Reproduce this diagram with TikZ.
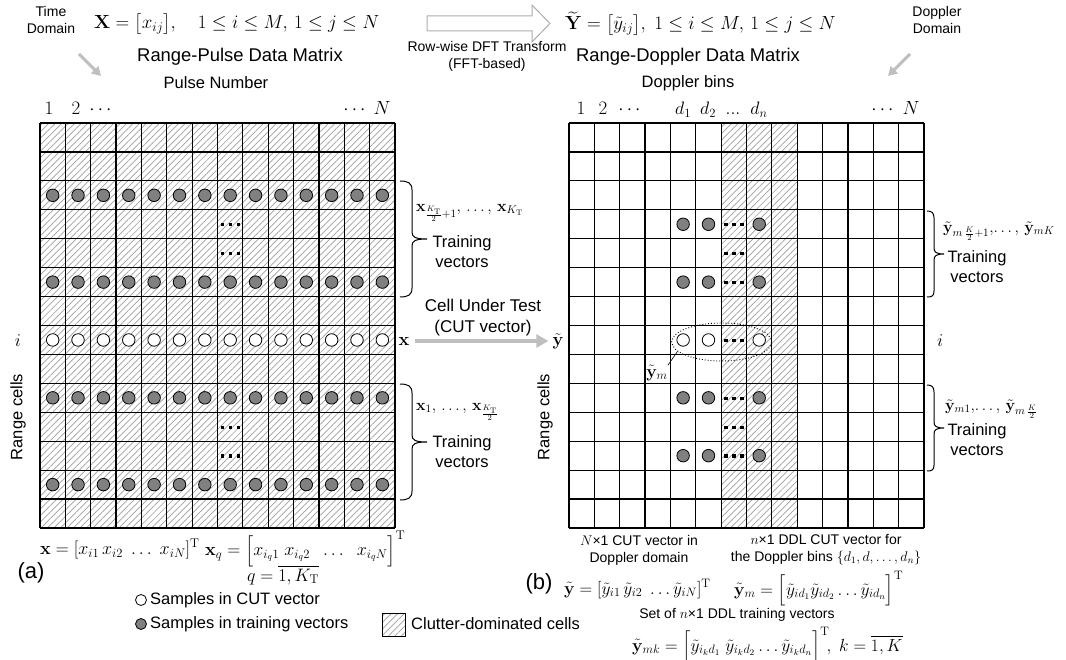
\RequirePackage{fix-cm}
\documentclass[tikz,border=0pt]{standalone}
\usepackage[no-math]{fontspec}
\setmainfont{Liberation Sans}
\usepackage{amsmath}
\usetikzlibrary{patterns.meta,arrows.meta,shapes.geometric}
\newcommand\dotsat[2]{\foreach \dx in {-8,0,8} {\fill[black] ({#1+\dx-1.7},{#2-1.2}) rectangle ++(3.4,3.4);}}
\begin{document}
\begin{tikzpicture}[x=1pt,y=-1pt,
  hatchp/.style={pattern={Lines[angle=45,distance=4.6pt,line width=0.7pt]}, pattern color=gray!75},
  gridl/.style={line width=1.2pt, black},
  tc/.style={circle, draw=black, line width=0.8pt, fill=gray, minimum size=12.5pt, inner sep=0pt},
  cc/.style={circle, draw=black, line width=0.8pt, fill=white, minimum size=12.5pt, inner sep=0pt},
  t18/.style={font=\fontsize{18.4}{21}\selectfont, inner sep=0pt},
  t17/.style={font=\fontsize{17}{21}\selectfont, inner sep=0pt, align=center},
  t16/.style={font=\fontsize{16.5}{20}\selectfont, inner sep=0pt, align=center},
  t14/.style={font=\fontsize{14}{17}\selectfont, inner sep=0pt, align=center},
  m19/.style={font=\fontsize{19}{22}\selectfont, inner sep=0pt},
  m18/.style={font=\fontsize{18}{21}\selectfont, inner sep=0pt},
  m17/.style={font=\fontsize{17.5}{20}\selectfont, inner sep=0pt},
  m16/.style={font=\fontsize{16}{19}\selectfont, inner sep=0pt},
  garrow/.style={gray!50, line width=3pt, -{Triangle[length=9pt,width=10pt]}},
  cutarrow/.style={gray!50, line width=4pt, -{Triangle[length=12pt,width=13pt]}},
  bracel/.style={line width=1pt, black}
]
\useasboundingbox (0,0) rectangle (1066,660);
\def\CW{25.36}
\def\RH{28.93}
% ---------------- left grid ----------------
\fill[white] (40,123) rectangle (395.04,528.02);
\fill[hatchp] (40,123) rectangle (395.04,528.02);
\foreach \i in {0,...,14} {
  \draw[gridl] ({40+\i*\CW},123) -- ({40+\i*\CW},528.02);
  \draw[gridl] (40,{123+\i*\RH}) -- (395.04,{123+\i*\RH});
}
\foreach \r in {3,6,10,13} {\foreach \c in {1,...,14} {
  \node[tc] (L\r-\c) at ({40+(\c-0.5)*\CW},{123+(\r-0.5)*\RH}) {};}}
\foreach \c in {1,...,14} {
  \node[cc] (L8-\c) at ({40+(\c-0.5)*\CW},{123+7.5*\RH}) {};}
\foreach \r in {4,5,11,12} {\pgfmathsetmacro\yy{123+(\r-0.5)*28.93}\dotsat{230.2}{\yy}}
% ---------------- right grid ----------------
\fill[white] (569,123) rectangle (924.04,528.02);
\fill[hatchp] (721.16,123) rectangle (797.24,528.02);
\foreach \i in {0,...,14} {
  \draw[gridl] ({569+\i*\CW},123) -- ({569+\i*\CW},528.02);
  \draw[gridl] (569,{123+\i*\RH}) -- (924.04,{123+\i*\RH});
}
\foreach \r in {4,6,10,12} {\foreach \c in {5,6,8} {
  \node[tc] (R\r-\c) at ({569+(\c-0.5)*\CW},{123+(\r-0.5)*\RH}) {};}}
\foreach \c in {5,6,8} {
  \node[cc] (R8-\c) at ({569+(\c-0.5)*\CW},{123+7.5*\RH}) {};}
\foreach \r in {4,5,6,8,10,11,12} {\pgfmathsetmacro\yy{123+(\r-0.5)*28.93}\dotsat{733.9}{\yy}}
\node[draw, dotted, line width=0.9pt, ellipse, minimum width=100pt, minimum height=38pt, inner sep=0pt] (ell) at (721.7,342) {};
\node[m17] (ym) at (657,373) {$\tilde{\mathbf{y}}_m$};
\draw[line width=0.6pt] (ym.north east) -- (ell.192);
% ---------------- top texts ----------------
\node[t14] (td) at (51,20) {Time\\Domain};
\coordinate (ta1) at (79,54);
\coordinate (ta2) at (101,76);
\draw[garrow] (ta1) -- (ta2);
\node[m19, anchor=west] (xf) at (94,24) {$\mathbf{X} = \big[x_{ij}\big],\quad 1\le i\le M,\, 1\le j\le N$};
\node[t18] (rpdm) at (240,57) {Range-Pulse Data Matrix};
\node[t16] (pn) at (216,83) {Pulse Number};
\draw[gray!65, line width=1pt, fill=white] (427,16) -- (532,16) -- (532,5) -- (550,23.5) -- (532,42) -- (532,31) -- (427,31) -- cycle;
\node[t14] (dft) at (487,56) {Row-wise DFT Transform\\(FFT-based)};
\node[m19, anchor=west] (yf) at (565,24) {$\widetilde{\mathbf{Y}} = \big[\tilde{y}_{ij}\big],\ 1\le i\le M,\, 1\le j\le N$};
\node[t18] (rddm) at (688,57) {Range-Doppler Data Matrix};
\node[t16] (db) at (688,83) {Doppler bins};
\node[t14] (dd) at (937,20) {Doppler\\Domain};
\coordinate (da1) at (910,54);
\coordinate (da2) at (888,76);
\draw[garrow] (da1) -- (da2);
% column labels
\node[m19, anchor=base] (l1) at (49,115) {$1$};
\node[m19, anchor=base] (l2) at (76,115) {$2$};
\node[m19, anchor=base] (l3) at (102,115) {$\cdots$};
\node[m19, anchor=base] (l4) at (356,115) {$\cdots$};
\node[m19, anchor=base] (l5) at (382,115) {$N$};
\node[m19, anchor=base] (r1) at (581,115) {$1$};
\node[m19, anchor=base] (r2) at (603,115) {$2$};
\node[m19, anchor=base] (r3) at (631,115) {$\cdots$};
\node[m18, anchor=base] (r4) at (683,115) {$d_1$};
\node[m18, anchor=base] (r5) at (708,115) {$d_2$};
\node[m18, anchor=base] (r6) at (733,115) {$...$};
\node[m18, anchor=base] (r7) at (759,115) {$d_n$};
\node[m19, anchor=base] (r8) at (884,115) {$\cdots$};
\node[m19, anchor=base] (r9) at (911,115) {$N$};
% ---------------- side labels ----------------
\node[m18] (li) at (18,341) {$i$};
\node[t16, rotate=90] (lrc) at (18,417) {Range cells};
\node[m18] (ri) at (940,341) {$i$};
\node[t16, rotate=90] (rrc) at (545,417) {Range cells};
\node[m18, inner sep=5pt] (xl) at (404,341) {$\mathbf{x}$};
\node[m18, inner sep=4pt] (yl) at (558,341) {$\tilde{\mathbf{y}}$};
\draw[cutarrow] (xl) -- (yl);
\node[t17] (cut) at (483,318) {Cell Under Test\\(CUT vector)};
% braces left
\draw[bracel] (400,181) .. controls (408,181) and (412,183) .. (412,190) -- (412,232) .. controls (412,237) and (415,239) .. (427,239) .. controls (415,239) and (412,241) .. (412,246) -- (412,288) .. controls (412,295) and (408,297) .. (400,297);
\node[m16, anchor=west] (ltv1) at (416,213) {$\mathbf{x}_{\frac{K_\mathrm{T}}{2}+1},\,\ldots,\,\mathbf{x}_{K_\mathrm{T}}$};
\node[t16] (lt1) at (462,252) {Training\\vectors};
\draw[bracel] (400,384) .. controls (408,384) and (412,386) .. (412,393) -- (412,435) .. controls (412,440) and (415,442) .. (427,442) .. controls (415,442) and (412,444) .. (412,449) -- (412,491) .. controls (412,498) and (408,500) .. (400,500);
\node[m16, anchor=west] (ltv2) at (416,412) {$\mathbf{x}_1,\,\ldots,\,\mathbf{x}_{\frac{K_\mathrm{T}}{2}}$};
\node[t16] (lt2) at (462,452) {Training\\vectors};
% braces right
\draw[bracel] (927,211) .. controls (932,211) and (934,213) .. (934,218) -- (934,248) .. controls (934,252) and (936,254) .. (944,254) .. controls (936,254) and (934,256) .. (934,260) -- (934,291) .. controls (934,296) and (932,297) .. (927,297);
\node[m16, anchor=west] (rtv1) at (943,231) {$\tilde{\mathbf{y}}_{m\,\frac{K}{2}+1},\!\ldots,\,\tilde{\mathbf{y}}_{mK}$};
\node[t16] (rt1) at (977,267) {Training\\vectors};
\draw[bracel] (927,385) .. controls (932,385) and (934,387) .. (934,392) -- (934,422) .. controls (934,426) and (936,428) .. (944,428) .. controls (936,428) and (934,430) .. (934,434) -- (934,465) .. controls (934,470) and (932,471) .. (927,471);
\node[m16, anchor=west] (rtv2) at (945,409) {$\tilde{\mathbf{y}}_{m1},\!\ldots,\,\tilde{\mathbf{y}}_{m\,\frac{K}{2}}$};
\node[t16] (rt2) at (977,440) {Training\\vectors};
% ---------------- bottom left ----------------
\node[m18, anchor=west] (bx) at (40,549) {$\mathbf{x} = [x_{i1}\,x_{i2}\;\ldots\;x_{iN}]^\mathrm{T}$};
\node[m18, anchor=west] (bxq) at (205,549) {$\mathbf{x}_q = \Big[x_{i_q1}\;x_{i_q2}\;\;\ldots\;\;x_{i_qN}\Big]^\mathrm{T}$};
\node[m18] (bq) at (283,575) {$q = \overline{1, K_\mathrm{T}}$};
\node[font=\fontsize{22}{24}\selectfont, inner sep=0pt] (la) at (31,573) {(a)};
\node[cc, minimum size=11pt] (lg1) at (141,600) {};
\node[t16, anchor=west] (lg1t) at (150,600) {Samples in CUT vector};
\node[tc, minimum size=11pt] (lg2) at (141,624) {};
\node[t16, anchor=west] (lg2t) at (150,624) {Samples in training vectors};
\fill[white] (382,613) rectangle (405,636);
\fill[hatchp] (382,613) rectangle (405,636);
\draw[line width=1pt] (382,613) rectangle (405,636);
\node[t16, anchor=west] (lg3t) at (411,624) {Clutter-dominated cells};
% ---------------- bottom right ----------------
\node[font=\fontsize{22}{24}\selectfont, inner sep=0pt] (lb) at (539,584) {(b)};
\node[t14] (bd1) at (639,550) {$N$×1 CUT vector in\\Doppler domain};
\node[m17, anchor=west] (by) at (564,589) {$\tilde{\mathbf{y}} = [\tilde{y}_{i1}\,\tilde{y}_{i2}\;\ldots\tilde{y}_{iN}]^\mathrm{T}$};
\node[t14] (bd2) at (826,550) {$n$×1 DDL CUT vector for\\the Doppler bins $\{d_1, d, \ldots, d_n\}$};
\node[m17, anchor=west] (bym) at (734,589) {$\tilde{\mathbf{y}}_m = \Big[\tilde{y}_{id_1}\tilde{y}_{id_2}\ldots\tilde{y}_{id_n}\Big]^\mathrm{T}$};
\node[t14] (bd3) at (737,615) {Set of $n$×1 DDL training vectors};
\node[m17, anchor=west] (bymk) at (632,645) {$\tilde{\mathbf{y}}_{mk} = \Big[\tilde{y}_{i_kd_1}\;\tilde{y}_{i_kd_2}\ldots\tilde{y}_{i_kd_n}\Big]^\mathrm{T}\!,\; k = \overline{1,K}$};
\end{tikzpicture}
\end{document}
